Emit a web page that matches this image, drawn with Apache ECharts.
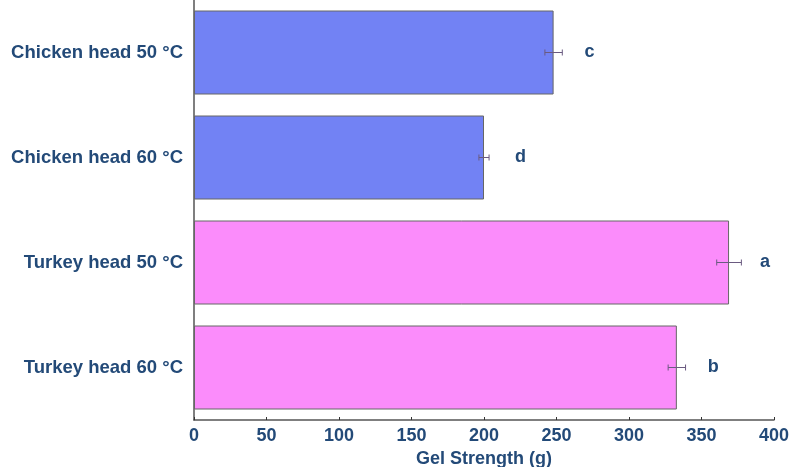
<!DOCTYPE html>
<html>
<head>
<meta charset="utf-8">
<script src="https://cdn.jsdelivr.net/npm/echarts@6/dist/echarts.min.js"></script>
<style>html,body{margin:0;padding:0;background:#fff;}#c{width:791px;height:467px;}</style>
</head>
<body>
<div id="c"></div>
<script>
var categories = ['Chicken head 50 °C', 'Chicken head 60 °C', 'Turkey head 50 °C', 'Turkey head 60 °C'];
var values = [248, 200, 369, 333];
var errors = [6, 3.5, 8.5, 6];
var letters = ['c', 'd', 'a', 'b'];
var barColors = ['#7282f4', '#7282f4', '#fb8cfb', '#fb8cfb'];
var xTicks = [0, 50, 100, 150, 200, 250, 300, 350, 400];

var textColor = '#234a78';
var fontSize = 18;
var chart = echarts.init(document.getElementById('c'));
chart.setOption({
  animation: false,
  backgroundColor: '#ffffff',
  grid: { left: 194, right: 17, top: 0, bottom: 47, containLabel: false, outerBoundsMode: 'none' },
  xAxis: {
    type: 'value', min: xTicks[0], max: xTicks[xTicks.length - 1], interval: 50,
    name: 'Gel Strength (g)', nameLocation: 'middle', nameGap: 29,
    nameTextStyle: { color: textColor, fontWeight: 'bold', fontSize: fontSize, fontFamily: 'Liberation Sans' },
    axisLine: { show: true, lineStyle: { color: '#555', width: 1.5 } },
    axisTick: { show: true, inside: true, length: 3, lineStyle: { color: '#333' } },
    axisLabel: { color: textColor, fontWeight: 'bold', fontSize: fontSize, fontFamily: 'Liberation Sans', margin: 7 },
    splitLine: { show: false }
  },
  yAxis: {
    type: 'category', data: categories, inverse: true,
    axisLine: { show: true, lineStyle: { color: '#555', width: 1.5 } },
    axisTick: { show: false },
    axisLabel: { color: textColor, fontWeight: 'bold', fontSize: 18.5, fontFamily: 'Liberation Sans', margin: 11 }
  },
  series: [
    {
      type: 'bar',
      barCategoryGap: '20%',
      data: values.map(function (v, i) {
        return { value: v, itemStyle: { color: barColors[i] } };
      }),
      itemStyle: { borderColor: '#666', borderWidth: 1 },
      label: {
        show: true, position: 'right', distance: 31,
        formatter: function (p) { return letters[p.dataIndex]; },
        color: textColor, fontWeight: 'bold', fontSize: fontSize, fontFamily: 'Liberation Sans'
      },
      z: 2
    },
    {
      type: 'custom',
      data: values.map(function (v, i) { return [i, v - errors[i], v + errors[i]]; }),
      encode: { x: [1, 2], y: 0 },
      renderItem: function (params, api) {
        var cat = api.value(0);
        var lo = api.coord([api.value(1), cat]);
        var hi = api.coord([api.value(2), cat]);
        var h = 3;
        var style = { stroke: '#6a5a80', lineWidth: 1 };
        return {
          type: 'group',
          children: [
            { type: 'line', shape: { x1: lo[0], y1: lo[1], x2: hi[0], y2: hi[1] }, style: style },
            { type: 'line', shape: { x1: lo[0], y1: lo[1] - h, x2: lo[0], y2: lo[1] + h }, style: style },
            { type: 'line', shape: { x1: hi[0], y1: hi[1] - h, x2: hi[0], y2: hi[1] + h }, style: style }
          ]
        };
      },
      z: 3
    }
  ]
});
</script>
</body>
</html>
